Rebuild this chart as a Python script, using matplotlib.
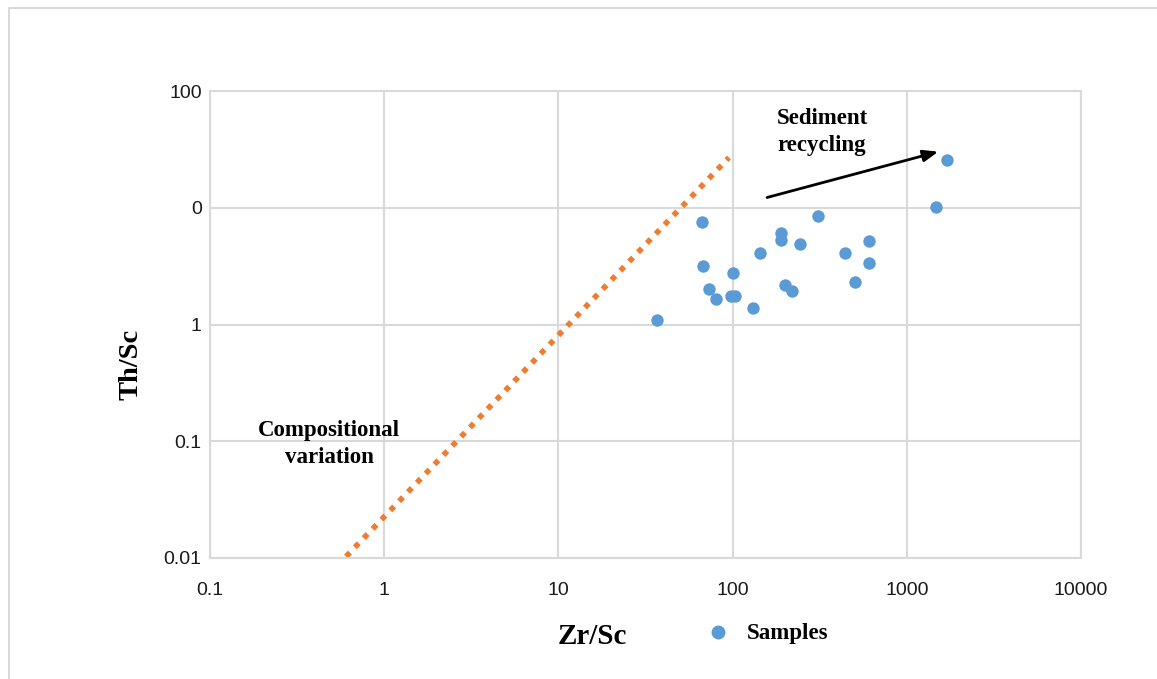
import matplotlib
matplotlib.use("Agg")
import matplotlib.pyplot as plt
from matplotlib.lines import Line2D
from matplotlib.ticker import FixedLocator, FixedFormatter, NullLocator

# Zr/Sc vs Th/Sc sample values
zr_sc = [36.7, 66.5, 67.3, 72.9, 80.6, 100.5, 97.9, 103.6, 131, 143.7, 188.8,
         189.6, 242.7, 310.5, 200.7, 219.3, 443.6, 502.3, 606.7, 604.3, 1476, 1701]
th_sc = [1.09, 7.58, 3.14, 2.03, 1.66, 2.75, 1.76, 1.77, 1.38, 4.06, 6.10,
         5.27, 4.94, 8.53, 2.16, 1.94, 4.08, 2.29, 5.24, 3.38, 10.1, 25.4]

# compositional variation trend line
trend_x = [0.604, 95.3]
trend_y = [0.0103, 26.9]

# sediment recycling arrow (tail, head)
arrow_x = [157.6, 1516]
arrow_y = [12.24, 30.2]

x_ticks = [0.1, 1, 10, 100, 1000, 10000]
x_labels = ["0.1", "1", "10", "100", "1000", "10000"]
y_ticks = [0.01, 0.1, 1, 10, 100]
y_labels = ["0.01", "0.1", "1", "0", "100"]

W, H = 1157, 679
fig = plt.figure(figsize=(W / 100, H / 100), dpi=100)
ax = fig.add_axes([210 / W, 1 - 558 / H, (1081 - 210) / W, (558 - 91) / H])

grid_c = "#D9D9D9"
ax.set_xscale("log")
ax.set_yscale("log")
ax.set_xlim(0.1, 10000)
ax.set_ylim(0.01, 100)
ax.xaxis.set_major_locator(FixedLocator(x_ticks))
ax.xaxis.set_major_formatter(FixedFormatter(x_labels))
ax.yaxis.set_major_locator(FixedLocator(y_ticks))
ax.yaxis.set_major_formatter(FixedFormatter(y_labels))
ax.xaxis.set_minor_locator(NullLocator())
ax.yaxis.set_minor_locator(NullLocator())
ax.grid(True, color=grid_c, linewidth=1.5)
ax.set_axisbelow(True)
for s in ax.spines.values():
    s.set_color(grid_c)
    s.set_linewidth(1.5)
ax.tick_params(length=0, labelsize=14, colors="#1a1a1a")
ax.tick_params(axis="y", pad=6)
ax.tick_params(axis="x", pad=17)
for lab in ax.get_xticklabels() + ax.get_yticklabels():
    lab.set_fontfamily("Liberation Sans")

ax.plot(trend_x, trend_y, color="#ED7D31", linewidth=4,
        linestyle=(0, (1, 1.3)), dash_capstyle="butt", zorder=2)
ax.scatter(zr_sc, th_sc, s=80, color="#5B9BD5", zorder=3, linewidths=0)

ax.annotate("", xy=(arrow_x[1], arrow_y[1]), xytext=(arrow_x[0], arrow_y[0]),
            arrowprops=dict(arrowstyle="-|>,head_length=0.9,head_width=0.35",
                            color="black", linewidth=2, shrinkA=0, shrinkB=0))

serif = dict(family="Liberation Serif", fontweight="bold", color="black")
fig.text(822 / W, 1 - 132 / H, "Sediment\nrecycling", ha="center", va="center",
         fontsize=16.5, linespacing=1.35, **serif)
fig.text(329 / W, 1 - 444 / H, "Compositional\nvariation", ha="center", va="center",
         fontsize=16.5, linespacing=1.35, **serif)
fig.text(592 / W, 1 - 637 / H, "Zr/Sc", ha="center", va="center", fontsize=21, **serif)
fig.text(131 / W, 1 - 364 / H, "Th/Sc", ha="center", va="center", fontsize=20.5,
         rotation=90, **serif)

# legend
fig.add_artist(Line2D([718 / W], [1 - 632 / H], marker="o", markersize=9,
                      color="#5B9BD5", linestyle="none", transform=fig.transFigure))
fig.text(747 / W, 1 - 633 / H, "Samples", ha="left", va="center", fontsize=16.5, **serif)

# outer chart frame (left and top edges)
fig.add_artist(Line2D([8.5 / W, 8.5 / W, 1.0], [0.0, 1 - 7.5 / H, 1 - 7.5 / H],
                      color=grid_c, linewidth=1.5, transform=fig.transFigure))

fig.savefig("out.png", dpi=100, facecolor="white")
